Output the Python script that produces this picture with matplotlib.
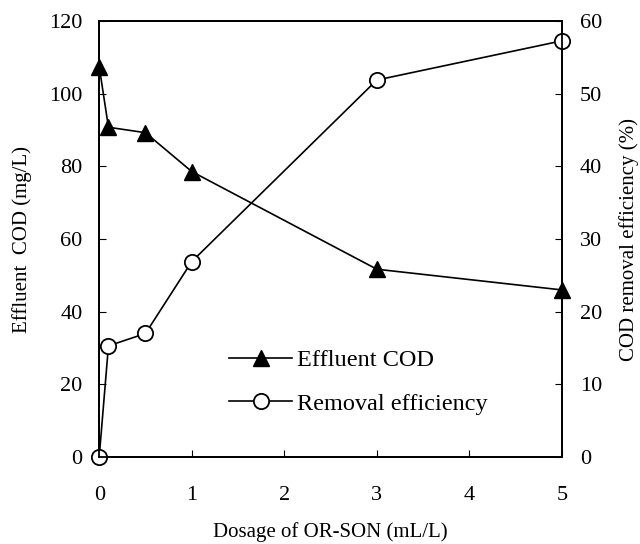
import matplotlib
matplotlib.use("Agg")
import matplotlib.pyplot as plt

plt.rcParams['font.family'] = ['Liberation Serif', 'DejaVu Serif']

# 投加量与出水COD、去除率
dosage = [0, 0.1, 0.5, 1, 3, 5]
effluent_cod = [107.5, 90.8, 89.3, 78.6, 51.7, 46.0]
removal_eff = [0, 15.3, 17.0, 26.9, 51.9, 57.3]

fig = plt.figure(figsize=(6.4, 5.44), dpi=100)
ax = fig.add_axes([0.155, 0.16, 0.723, 0.801])
ax2 = ax.twinx()

l1, = ax.plot(dosage, effluent_cod, 'k-', marker='^', markersize=11,
              markerfacecolor='black', linewidth=1.2, label='Effluent COD')
l2, = ax2.plot(dosage, removal_eff, 'k-', marker='o', markersize=11,
               markerfacecolor='white', markeredgewidth=1.3, linewidth=1.2,
               label='Removal efficiency')
for line in (l1, l2):
    line.set_clip_on(False)

ax.set_xlim(0, 5)
ax.set_ylim(0, 120)
ax2.set_ylim(0, 60)
ax.set_xticks(range(6))
ax.set_yticks(range(0, 121, 20))
ax2.set_yticks(range(0, 61, 10))

ax.tick_params(axis='x', direction='in', length=5, labelsize=16, pad=21, top=False)
ax.tick_params(axis='y', direction='in', length=5, labelsize=16, pad=12)
ax2.tick_params(direction='in', length=5, labelsize=16, pad=13)
ax.set_xlabel('Dosage of OR-SON (mL/L)', fontsize=15, labelpad=12)
ax.set_ylabel('Effluent  COD (mg/L)', fontsize=15, labelpad=12)
ax2.set_ylabel('COD removal efficiency (%)', fontsize=15, labelpad=12)

for a in (ax, ax2):
    for s in a.spines.values():
        s.set_linewidth(1.3)

ax2.legend(handles=[l1, l2], frameon=False, fontsize=17.5,
           loc='upper left', bbox_to_anchor=(0.26, 0.27),
           handlelength=2.6, handletextpad=0.2, labelspacing=0.9,
           borderaxespad=0)

fig.savefig('out.png', dpi=100)
